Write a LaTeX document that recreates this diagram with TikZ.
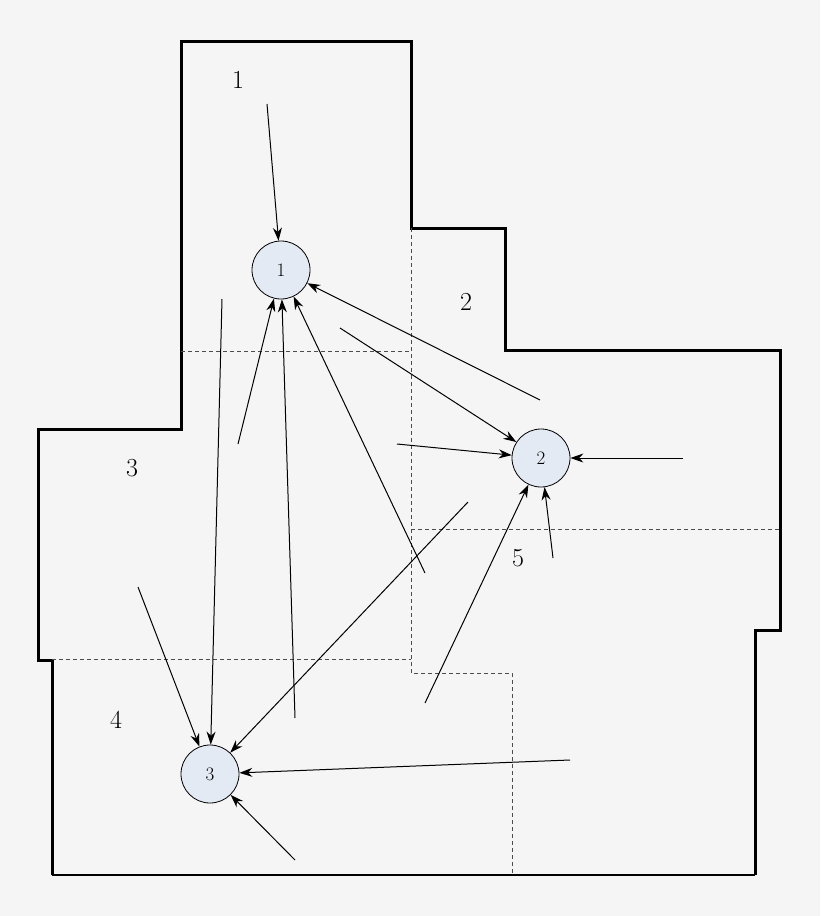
\documentclass[tikz,border=0pt]{standalone}
\usetikzlibrary{arrows.meta}
\definecolor{bg}{HTML}{F5F5F5}
\definecolor{cfill}{HTML}{E4EAF4}
\newcommand{\ptfont}{\fontsize{19}{19}\selectfont}
\begin{document}
\begin{tikzpicture}[x=1pt,y=-1pt,
  wall/.style={line width=3pt,line join=miter},
  zone/.style={dashed,dash pattern=on 4pt off 3pt,line width=0.8pt,gray!60!black},
  pt/.style={circle,draw,line width=0.8pt,fill=cfill,minimum size=58pt,inner sep=0pt},
  lab/.style={font=\fontsize{26}{26}\selectfont},
  arr/.style={-{Stealth[length=13pt,width=9pt]},line width=1pt}]
\fill[bg] (0,0) rectangle (820,916);
\useasboundingbox (0,0) rectangle (820,916);
\draw[wall] (52,875) -- (52,660) -- (38,660) -- (38,429) -- (181,429) -- (181,41) -- (411,41) -- (411,228) -- (505,228) -- (505,350) -- (780,350) -- (780,630) -- (755,630) -- (755,875);
\draw[line width=1.4pt] (52,875) -- (755,875);
\draw[zone] (181,351) -- (411,351);
\draw[zone] (411,228) -- (411,673) -- (512,673) -- (512,875);
\draw[zone] (411,529) -- (780,529);
\draw[zone] (52,659) -- (411,659);
\node[pt] (c1) at (281,270) {\ptfont 1};
\node[pt] (c2) at (541,458) {\ptfont 2};
\node[pt] (c3) at (210,774) {\ptfont 3};
\node[lab] (l1) at (238,80) {1};
\node[lab] (l2) at (466,302) {2};
\node[lab] (l3) at (132,468) {3};
\node[lab] (l4) at (116,720) {4};
\node[lab] (l5) at (518,558) {5};
\foreach \n/\x/\y in {a/267/104,b/238/444,c/295/718,d/425/573,e/540/400}
  \coordinate (\n) at (\x,\y);
\foreach \n/\x/\y in {f/340/328,g/397/444,h/683/458,i/553/558,j/425/703}
  \coordinate (\n) at (\x,\y);
\foreach \n/\x/\y in {k/222/299,l/468/502,m/138/587,n/570/760,o/295/860}
  \coordinate (\n) at (\x,\y);
\foreach \s in {a,b,c,d,e} \draw[arr] (\s) -- (c1);
\foreach \s in {f,g,h,i,j} \draw[arr] (\s) -- (c2);
\foreach \s in {k,l,m,n,o} \draw[arr] (\s) -- (c3);
\end{tikzpicture}
\end{document}
